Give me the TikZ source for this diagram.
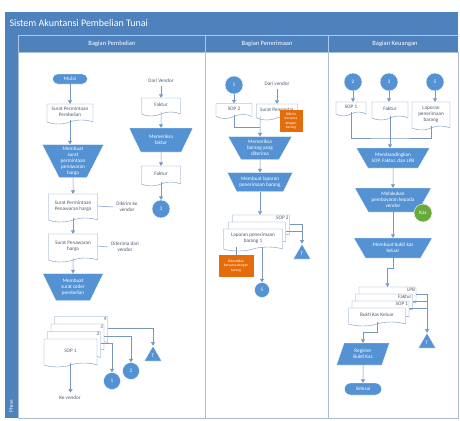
\documentclass[tikz,border=0pt]{standalone}
\usepackage{fontspec}
\setmainfont{Carlito}
\usetikzlibrary{positioning}
\usetikzlibrary{shapes.geometric,shapes.symbols,arrows.meta}

\definecolor{kepala}{RGB}{79,129,189}
\definecolor{biru}{RGB}{84,146,212}
\definecolor{garis}{RGB}{120,150,190}
\definecolor{teks}{RGB}{80,90,110}
\definecolor{oranye}{RGB}{228,108,10}
\definecolor{hijau}{RGB}{104,170,60}
\definecolor{batas}{RGB}{170,190,215}

\tikzset{
  kecil/.style={font=\fontsize{5.2}{5.9}\selectfont},
  arus/.style={draw=garis, line width=0.5pt, -{Triangle[width=4pt,length=3.5pt]}},
  hubung/.style={draw=garis, line width=0.5pt},
  dokumen/.style={tape, tape bend top=none, tape bend bottom=in and out, tape bend height=4pt, draw=garis, fill=white, text=teks, align=center, inner sep=1pt, kecil},
  label/.style={kecil, text=teks, anchor=north east, inner sep=1pt},
  proses/.style={trapezium, shape border rotate=180, trapezium angle=62, trapezium stretches=true, fill=biru, draw=white, text=white, align=center, inner sep=1pt, kecil},
  jajar/.style={trapezium, trapezium left angle=70, trapezium right angle=110, trapezium stretches=true, fill=biru, draw=white, text=white, align=center, inner sep=1pt, kecil},
  awal/.style={rectangle, rounded corners=5pt, fill=biru, draw=white, text=white, kecil, minimum width=35pt, minimum height=10pt, inner sep=0pt},
  lingkar/.style={circle, fill=biru, draw=white, text=white, kecil, minimum size=17pt, inner sep=0pt},
  arsip/.style={regular polygon, regular polygon sides=3, fill=biru, draw=white, text=white, kecil, minimum size=20pt, inner sep=0pt},
  catatan/.style={rectangle, fill=oranye, text=white, align=center, font=\fontsize{3.6}{4.2}\selectfont, inner sep=1pt},
  keterangan/.style={text=teks, align=center, kecil},
}

\begin{document}
\begin{tikzpicture}[x=1pt,y=-1pt]
\useasboundingbox (0,0) rectangle (460,420);
% kerangka
\fill[kepala] (5,12) rectangle (458,52);
\fill[kepala] (5,52) rectangle (18,418);
\draw[batas,fill=white] (18,52) rectangle (205,418);
\draw[batas,fill=white] (205,52) rectangle (328,418);
\draw[batas,fill=white] (328,52) rectangle (458,418);
\draw[white!55!kepala] (18,35) -- (458,35) (18,35) -- (18,52) (205,35) -- (205,52) (328,35) -- (328,52);
\node[anchor=west, text=white, font=\fontsize{10}{12}\selectfont] (judul) at (6,23) {Sistem Akuntansi Pembelian Tunai};
\node[text=white, font=\fontsize{6.5}{8}\selectfont] (lajur1) at (112,44) {Bagian Pembelian};
\node[text=white, font=\fontsize{6.5}{8}\selectfont] (lajur2) at (267,44) {Bagian Penerimaan};
\node[text=white, font=\fontsize{6.5}{8}\selectfont] (lajur3) at (395,44) {Bagian Keuangan};
\node[rotate=90, anchor=west, text=white, kecil] (fase) at (11,416) {Phase};

% bagian pembelian
\node[awal] (mulai) at (70,79) {Mulai};
\node[dokumen, minimum width=46pt, minimum height=20pt] (spp) at (70,112) {Surat Permintaan\\Pembelian};
\node[proses, minimum width=62pt, minimum height=33pt] (buatspph) at (73,161) {Membuat\\surat\\permintaan\\penawaran\\harga};
\node[dokumen, minimum width=49pt, minimum height=28pt] (sph) at (73,206) {Surat Permintaan\\Penawaran harga};
\node[keterangan] (kirim) at (127,207) {Dikirim ke\\vendor};
\node[dokumen, minimum width=49pt, minimum height=28pt] (sp) at (73,246) {Surat Penawaran\\harga};
\node[keterangan] (terima) at (125,247) {Diterima dari\\vendor};
\node[proses, minimum width=61pt, minimum height=27pt] (buatsop) at (73,287) {Membuat\\surat order\\pembelian};

\node[dokumen, minimum width=53pt, minimum height=28pt] (sop4) at (81,328.5) {};
\node[label] (sop4l) at (sop4.north east) {4};
\node[dokumen, minimum width=53pt, minimum height=28pt] (sop3) at (77.5,336) {};
\node[label] (sop3l) at (sop3.north east) {3};
\node[dokumen, minimum width=53pt, minimum height=28pt] (sop2) at (74,343.5) {};
\node[label] (sop2l) at (sop2.north east) {2};
\node[dokumen, minimum width=53pt, minimum height=28pt] (sop1) at (70.5,351) {SOP 1};
\node[keterangan] (kevendor) at (70,398) {Ke vendor};
\node[lingkar] (ke1) at (112,381) {1};
\node[lingkar] (ke2) at (131,371) {2};
\node[arsip] (arsip1) at (153,356) {T};

\node[keterangan] (darivendor1) at (161,81) {Dari Vendor};
\node[dokumen, minimum width=39pt, minimum height=18pt] (faktur1) at (161,105) {Faktur};
\node[proses, minimum width=64pt, minimum height=24pt, trapezium angle=58] (periksafaktur) at (161,140) {Memeriksa\\faktur};
\node[dokumen, minimum width=39pt, minimum height=20pt] (faktur2) at (161,174) {Faktur};
\node[lingkar, minimum size=18pt] (ke3) at (161,209) {3};

\draw[arus] (mulai) -- (spp);
\draw[arus] (spp.south) -- (spp.south |- buatspph.north);
\draw[arus] (buatspph) -- (sph);
\draw[hubung] (sph.east) -- (kirim.west);
\draw[arus] (sph.south) -- (sp.north);
\draw[hubung] (sp.east) -- (terima.west);
\draw[arus] (sp.south) -- (buatsop.north);
\draw[arus] (sop1.south) -- (sop1.south |- kevendor.north);
\draw[arus] (sop2.east) -| (ke1);
\draw[arus] (sop3.east) -| (ke2);
\draw[arus] (sop4.east) -| (arsip1);
\draw[arus] (darivendor1) -- (faktur1);
\draw[arus] (faktur1.south) -- (periksafaktur.north);
\draw[arus] (periksafaktur) -- (faktur2);
\draw[arus] (faktur2.south) -- (ke3);

% bagian penerimaan
\node[lingkar, minimum size=18pt] (dari1) at (234,85) {1};
\node[keterangan] (darivendor2) at (277,84) {Dari vendor};
\node[dokumen, minimum width=36pt, minimum height=15pt] (sopdua) at (234,109) {SOP 2};
\node[dokumen, minimum width=41pt, minimum height=16pt] (pengantar) at (277,110) {Surat Pengantar};
\node[catatan, minimum width=23pt, minimum height=22pt] (cat1) at (291,121) {Dikirim\\bersama\\dengan\\barang};
\node[proses, minimum width=64pt, minimum height=23pt] (periksabarang) at (260,148) {Memeriksa\\barang yang\\diterima};
\node[proses, minimum width=66pt, minimum height=19pt, trapezium angle=55] (buatlpb) at (260,182) {Membuat laporan\\penerimaan barang};
\coordinate (gabung) at (260,127);

\node[dokumen, minimum width=57pt, minimum height=22pt] (lpbb) at (261,224) {};
\node[label] (lpbbl) at (lpbb.north east) {SOP 2};
\node[dokumen, minimum width=57pt, minimum height=22pt] (lpbt) at (257,231) {};
\node[dokumen, minimum width=59pt, minimum height=22pt] (lpbd) at (253,238) {Laporan penerimaan\\barang 1};
\node[catatan, minimum width=35pt, minimum height=22pt] (cat2) at (236,266) {Diserahkan\\bersama dengan\\barang};
\node[lingkar, minimum size=15pt] (ke5) at (262,290) {5};
\node[arsip] (arsip2) at (302,254) {T};

\draw[arus] (dari1) -- (sopdua);
\draw[arus] (darivendor2) -- (pengantar);
\draw[hubung] (sopdua.south) |- (gabung);
\draw[arus] (gabung |- pengantar.south) -- (periksabarang.north);
\draw[arus] (periksabarang) -- (buatlpb);
\draw[arus] (buatlpb.south) -- (buatlpb.south |- lpbb.north);
\draw[arus] (lpbb.east) -| (arsip2);
\draw[hubung] (lpbt.east) -- (lpbt.east -| arsip2);
\draw[arus] (lpbd.south -| ke5) -- (ke5);
\draw[hubung] (cat2.north) -- (cat2.north |- lpbd.south);

% bagian keuangan
\node[lingkar, minimum size=18pt] (dari2) at (353,82) {2};
\node[lingkar, minimum size=18pt] (dari3) at (389,82) {3};
\node[lingkar, minimum size=18pt] (dari5) at (435,82) {5};
\node[dokumen, minimum width=30pt, minimum height=14pt] (sopsatu) at (351,107) {SOP 1};
\node[dokumen, minimum width=36pt, minimum height=18pt] (faktur3) at (390,109) {Faktur};
\node[dokumen, minimum width=38pt, minimum height=28pt] (lpb) at (431,114) {Laporan\\penerimaan\\barang};
\coordinate (temu) at (390,138);
\node[proses, minimum width=74pt, minimum height=20pt, trapezium angle=50] (banding) at (393,158) {Membandingkan\\SOP, Faktur, dan LPB};
\node[proses, minimum width=77pt, minimum height=24pt, trapezium angle=55] (bayar) at (393,200) {Melakukan\\pembayaran kepada\\vendor};
\node[lingkar, fill=hijau, minimum size=18pt] (kas) at (423,213) {Kas};
\node[proses, minimum width=79pt, minimum height=20pt, trapezium angle=52] (buatbkk) at (393,248) {Membuat bukti kas\\keluar};

\node[dokumen, minimum width=57pt, minimum height=18pt] (bkk4) at (387.5,294) {};
\node[label] (bkk4l) at (bkk4.north east) {LPB};
\node[dokumen, minimum width=57pt, minimum height=18pt] (bkk3) at (384,301) {};
\node[label] (bkk3l) at (bkk3.north east) {Faktur};
\node[dokumen, minimum width=57pt, minimum height=18pt] (bkk2) at (380.5,308) {};
\node[label] (bkk2l) at (bkk2.north east) {SOP 1};
\node[dokumen, minimum width=57pt, minimum height=18pt] (bkk1) at (377,315) {Bukti Kas Keluar};
\node[arsip] (arsip3) at (427,343) {T};
\node[jajar, minimum width=53pt, minimum height=22pt] (register) at (363,354) {Register\\Bukti Kas};
\node[awal, minimum width=37pt, minimum height=12pt, rounded corners=6pt] (selesai) at (363,389) {Selesai};

\draw[arus] (dari2) -- (dari2 |- sopsatu.north);
\draw[arus] (dari3) -- (dari3 |- faktur3.north);
\draw[arus] (dari5) -- (dari5 |- lpb.north);
\draw[hubung] (sopsatu.south) |- (temu) -| (lpb.south);
\draw[arus] (faktur3.south) -- (faktur3.south |- banding.north);
\draw[arus] (banding) -- (bayar);
\draw[arus] (bayar.south) -- (bayar.south |- buatbkk.north);
\draw[arus] (buatbkk.south) -- ++(0,10) -| (bkk4.north);
\draw[arus] (bkk4.east) -| (arsip3);
\draw[hubung] (bkk3.east) -- (bkk3.east -| arsip3);
\draw[hubung] (bkk2.east) -- (bkk2.east -| arsip3);
\draw[arus] (bkk1.south) -- ++(0,10) -| (register.north);
\draw[arus] (register) -- (selesai);
\end{tikzpicture}
\end{document}
